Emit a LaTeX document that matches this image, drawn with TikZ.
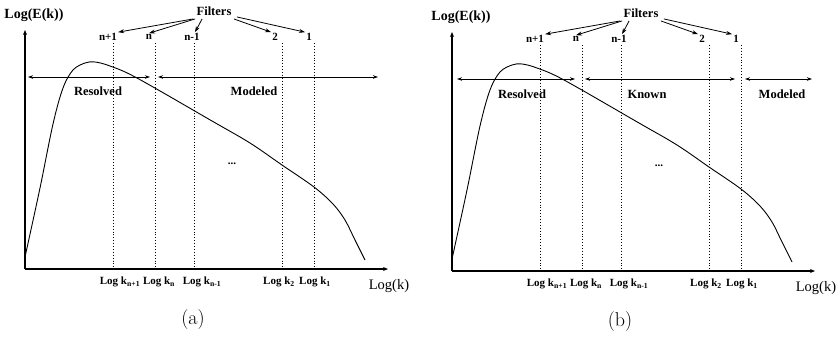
\documentclass[tikz,border=0pt]{standalone}
\usepackage{fontspec}
\newfontfamily\timesfont{Liberation Serif}
\usetikzlibrary{arrows.meta}

\begin{document}
\begin{tikzpicture}[x=1pt,y=-1pt,
  lbl/.style={font=\timesfont\bfseries\fontsize{12.5}{14}\selectfont},
  small/.style={font=\timesfont\bfseries\fontsize{11}{13}\selectfont,inner sep=1pt},
  axlab/.style={font=\timesfont\fontsize{14.5}{16}\selectfont},
  axis/.style={line width=1.3pt,-{Stealth[length=5pt,width=4pt]}},
  rangearr/.style={line width=0.8pt,{Stealth[length=5pt,width=3.5pt]}-{Stealth[length=5pt,width=3.5pt]}},
  pointer/.style={line width=0.8pt,-{Stealth[length=6pt,width=4pt]}},
  cutoff/.style={line width=0.9pt,dotted},
  spectrum/.style={line width=0.9pt}]
\useasboundingbox (0,0) rectangle (838,341);

% the two spectra, (b) shifted right
\foreach \dx/\dy/\p in {0/0/a,427/2/b}{
\begin{scope}[shift={(\dx,\dy)}]
  % axes
  \coordinate (o\p) at (25,269);
  \coordinate (ytop\p) at (25,30);
  \coordinate (xend\p) at (388,269);
  \draw[axis] (o\p) -- (ytop\p);
  \draw[axis] (o\p) -- (xend\p);
  \node[axlab,font=\timesfont\bfseries\fontsize{14}{16}\selectfont] (ylab\p) at (34,15) {Log(E(k))};
  \node[axlab] (xlab\p) at (389,286) {Log(k)};
  \node[font=\fontsize{20}{24}\selectfont] (cap\p) at (193,320) {(\p)};

  % energy spectrum
  \draw[spectrum] plot[smooth,tension=0.55] coordinates {(25,257) (40,188) (53,124) (63,88) (73,70) (85,63) (95,62) (110,66) (137,78) (212,121) (250,143) (282,165) (314,187) (333,204) (345,220) (355,240) (365,260)};
  \node[small] (dots\p) at (232,164) {...};

  % filter cut-offs
  \node[lbl] (filt\p) at (214,11) {Filters};
  \foreach \x/\tx/\bx/\top/\sub/\nm in {113/108/120/n+1/{n+1}/np1,155/149/159/n/n/n,194/192/202/n-1/{n-1}/nm1,282/275/279/2/2/two,314/309/315/1/1/one}{
    \coordinate (lt\nm\p) at (\x,43);
    \coordinate (lb\nm\p) at (\x,269);
    \draw[cutoff] (lt\nm\p) -- (lb\nm\p);
    \node[small] (top\nm\p) at (\tx,37) {\top};
    \node[small] (bot\nm\p) at (\bx,282) {Log k\textsubscript{\sub}};
  }
  \draw[pointer] (filt\p.south west) -- (topnp1\p.north east);
  \draw[pointer] ([xshift=2pt]filt\p.south west) -- (topn\p.north);
  \draw[pointer] ([xshift=9pt]filt\p.south west) -- ([xshift=3pt]topnm1\p.north);
  \draw[pointer] ([xshift=-1pt]filt\p.south east) -- (toptwo\p.north west);
  \draw[pointer] ([xshift=2pt,yshift=2pt]filt\p.south east) -- (topone\p.north west);
\end{scope}
}

% ranges of (a)
\coordinate (ra1) at (28,77);   \coordinate (ra2) at (150,77);
\coordinate (ma1) at (158,77);  \coordinate (ma2) at (378,77);
\draw[rangearr] (ra1) -- (ra2);
\draw[rangearr] (ma1) -- (ma2);
\node[lbl] (resa) at (98,91) {Resolved};
\node[lbl] (moda) at (254,91) {Modeled};

% ranges of (b)
\coordinate (rb1) at (457,79);  \coordinate (rb2) at (575,79);
\coordinate (kb1) at (585,79);  \coordinate (kb2) at (735,79);
\coordinate (mb1) at (745,79);  \coordinate (mb2) at (812,79);
\draw[rangearr] (rb1) -- (rb2);
\draw[rangearr] (kb1) -- (kb2);
\draw[rangearr] (mb1) -- (mb2);
\node[lbl] (resb) at (522,94) {Resolved};
\node[lbl] (knb) at (647,94) {Known};
\node[lbl] (modb) at (782,94) {Modeled};
\end{tikzpicture}
\end{document}
